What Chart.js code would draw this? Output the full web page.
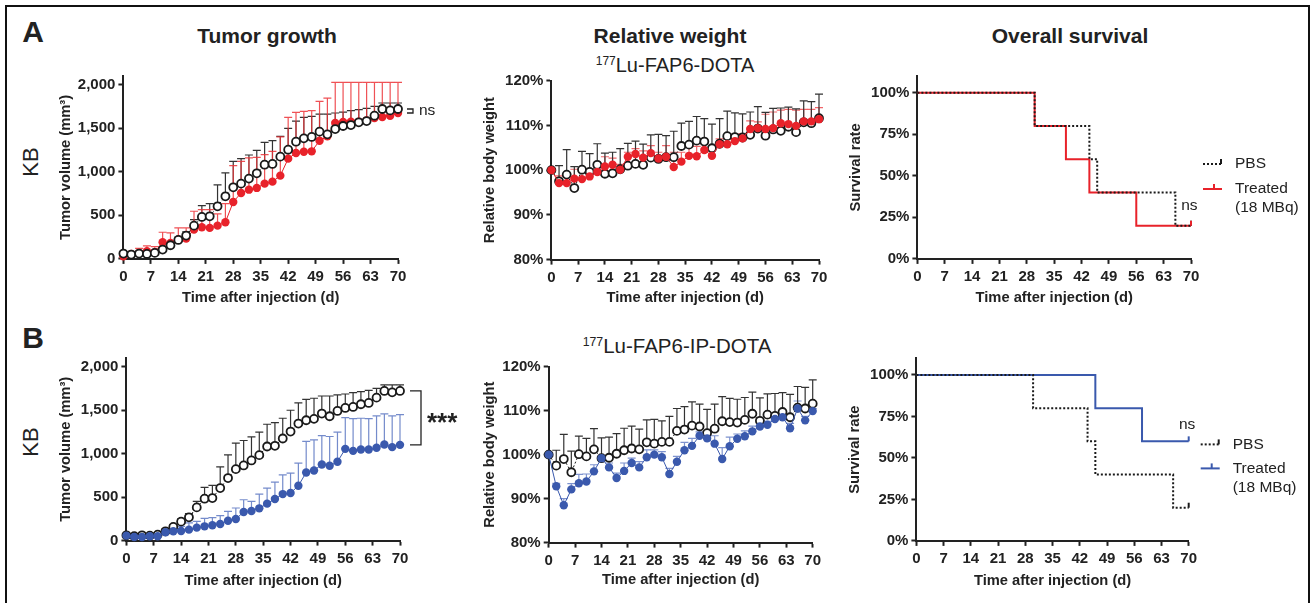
<!DOCTYPE html>
<html>
<head>
<meta charset="utf-8">
<script src="https://cdn.jsdelivr.net/npm/chart.js"></script>
<style>
  body { margin:0; background:#fff; width:1314px; height:603px; overflow:hidden; position:relative;
         font-family:"Liberation Sans", Arial, sans-serif; color:#222; }
  .frame { position:absolute; left:5px; top:5px; width:1301px; height:640px; border:2px solid #111; border-bottom:none; }
  .lbl { position:absolute; transform:translate(-50%,-50%); white-space:nowrap; line-height:1; }
  .rot { transform:translate(-50%,-50%) rotate(-90deg); }
  .box { position:absolute; }
  sup { font-size:0.6em; vertical-align:0.55em; line-height:0; }
</style>
</head>
<body>
<div class="frame"></div>

<div class="lbl" style="left:33px;top:32px;font-weight:bold;font-size:30px">A</div>
<div class="lbl" style="left:33px;top:338px;font-weight:bold;font-size:30px">B</div>
<div class="lbl" style="left:267px;top:35px;font-weight:bold;font-size:21px">Tumor growth</div>
<div class="lbl" style="left:670px;top:35px;font-weight:bold;font-size:21px">Relative weight</div>
<div class="lbl" style="left:1070px;top:35px;font-weight:bold;font-size:21px">Overall survival</div>
<div class="lbl" style="left:675px;top:65px;font-size:20px"><sup>177</sup>Lu-FAP6-DOTA</div>
<div class="lbl" style="left:677px;top:346px;font-size:20.5px"><sup>177</sup>Lu-FAP6-IP-DOTA</div>
<div class="lbl rot" style="left:31px;top:162px;font-size:22px">KB</div>
<div class="lbl rot" style="left:31px;top:442px;font-size:22px">KB</div>

<script>
// sampling days and axis ticks
var days = [0,2,4,6,8,10,12,14,16,18,20,22,24,26,28,30,32,34,36,38,40,42,44,46,48,50,52,54,56,58,60,62,64,66,68,70];
var dayTicks = [0,7,14,21,28,35,42,49,56,63,70];
var volumeTicks = [0,500,1000,1500,2000];
var weightTicks = [80,90,100,110,120];
var survivalTicks = [0,25,50,75,100];

// tumor volume (mm3), mean and mean+SD
var tumorPBS =     [61,50,61,57,69,107,157,218,268,382,482,489,604,719,822,864,922,983,1082,1090,1174,1254,1346,1384,1400,1461,1430,1491,1526,1537,1568,1583,1644,1721,1705,1721];
var tumorPBSUp =   [75,65,80,75,90,135,185,250,310,450,612,635,849,987,1120,1151,1193,1247,1338,1357,1407,1499,1583,1625,1637,1663,1663,1675,1686,1702,1713,1728,1751,1790,1790,1790];
var tumorFAP6 =    [31,57,69,88,76,191,183,222,233,336,363,356,382,421,654,757,795,815,864,887,956,1151,1216,1231,1235,1357,1407,1560,1572,1576,1576,1591,1618,1629,1644,1675];
var tumorFAP6Up =  [60,75,120,150,140,306,298,356,356,547,566,566,516,635,1071,1120,1159,1166,1197,1235,1400,1625,1683,1694,1702,1809,1847,2027,2027,2027,2027,2027,2027,2027,2027,2027];
var tumorIP =      [57,42,42,50,50,96,107,111,126,149,164,176,191,229,249,329,340,371,425,478,535,547,631,784,807,876,860,906,1055,1032,1047,1047,1067,1105,1075,1101];
var tumorIPUp =    [70,55,55,62,65,126,145,164,203,222,256,264,287,337,375,470,451,535,604,673,757,776,891,1140,1159,1208,1197,1247,1415,1403,1407,1403,1434,1457,1434,1449];

// relative body weight (%), mean and mean+SD
var weightPBS =    [100,97.5,99.0,96.0,100.1,99.6,101.2,99.2,99.3,100.2,101.0,101.4,101.2,102.8,102.5,102.9,102.9,105.4,105.7,106.6,106.4,104.9,105.9,107.6,107.4,107.3,107.9,109.3,107.7,109.1,108.8,109.7,108.5,110.7,110.5,111.6];
var weightPBSUp =  [100,101.0,104.6,100.8,104.2,103.7,105.9,103.8,104.0,104.8,106.0,106.5,105.8,107.9,108.0,107.7,108.7,110.5,110.9,112.0,111.5,110.3,111.5,113.2,112.8,112.6,113.0,114.2,112.9,113.8,113.9,114.1,113.7,115.5,115.3,117.0];
var weightFAP6 =   [100,97.1,97.1,98.1,98.0,98.6,99.6,100.8,101.2,100.1,103.0,103.6,102.8,103.8,102.6,103.0,100.7,101.9,103.2,103.1,104.5,103.2,105.8,105.8,106.5,107.1,109.2,109.4,109.2,109.4,110.5,110.3,109.9,110.9,110.9,111.4];
var weightFAP6Up = [100,98.7,98.5,100.2,100.3,100.3,100.8,103.0,102.7,101.3,104.0,104.8,104.3,105.5,104.0,105.5,104.0,104.0,105.3,105.3,106.0,105.0,107.0,107.2,108.0,108.2,111.0,110.8,112.5,113.0,113.4,113.6,113.4,113.6,113.6,114.0];
var weightIP =     [100,92.8,88.5,92.1,93.5,93.9,96.2,99.2,97.1,94.7,96.3,98.1,97.1,99.4,100.0,99.4,95.6,98.4,101.0,102.0,104.3,103.7,102.5,99.0,101.9,103.6,104.2,105.3,106.4,106.8,108.1,108.5,106.0,110.5,107.8,109.9];
var weightIPUp =   [100,93.5,90.0,93.4,95.5,95.6,97.7,99.5,98.1,95.8,98.1,99.2,98.4,101.1,101.1,100.7,96.9,99.6,102.8,103.7,105.2,104.9,104.3,101.6,104.0,104.7,105.4,106.5,107.1,107.6,108.7,109.0,107.1,112.2,108.7,110.5];

// Kaplan-Meier steps
var survPBSDays = [0,30,44,46,66,70];
var survPBS =     [100,80,60,40,20,20];
var survFAP6Days = [0,30,38,44,56,70];
var survFAP6 =     [100,80,60,40,20,20];
var survIPDays = [0,46,58,70];
var survIP =     [100,80,60,60];

var BLACK = '#1a1a1a', RED = '#e8222a', BLUE = '#3a59ad';
var FONT = '"Liberation Sans", Arial, sans-serif';
Chart.defaults.font.family = FONT;
Chart.defaults.color = '#222';

function pts(xs, ys) { return xs.map(function(x, i){ return {x: x, y: ys[i]}; }); }

var errorBars = {
  id: 'errorBars',
  beforeDatasetsDraw: function(chart) {
    var ctx = chart.ctx, x = chart.scales.x, y = chart.scales.y;
    chart.data.datasets.forEach(function(ds) {
      if (!ds.errUp) return;
      ctx.save();
      ctx.strokeStyle = ds.errColor;
      ctx.lineWidth = 1.2;
      ds.data.forEach(function(p, j) {
        var px = x.getPixelForValue(p.x), py = y.getPixelForValue(p.y), pu = y.getPixelForValue(ds.errUp[j]);
        if (py - pu < 1) return;
        ctx.beginPath();
        ctx.moveTo(px, py); ctx.lineTo(px, pu);
        ctx.moveTo(px - 4, pu); ctx.lineTo(px + 4, pu);
        ctx.stroke();
      });
      ctx.restore();
    });
  }
};

var bracket = {
  id: 'bracket',
  afterDatasetsDraw: function(chart, args, o) {
    if (o.hi === undefined) return;
    var ctx = chart.ctx, x = chart.scales.x, y = chart.scales.y;
    var yh = y.getPixelForValue(o.hi), yl = y.getPixelForValue(o.lo), xr = x.right + o.dx;
    ctx.save();
    ctx.strokeStyle = '#222'; ctx.lineWidth = 1.3;
    ctx.beginPath();
    ctx.moveTo(xr - o.w, yh); ctx.lineTo(xr, yh); ctx.lineTo(xr, yl); ctx.lineTo(xr - o.w, yl);
    ctx.stroke();
    ctx.fillStyle = '#222'; ctx.font = o.font; ctx.textBaseline = 'middle';
    ctx.fillText(o.text, xr + o.gap, (yh + yl) / 2 + o.ty);
    ctx.restore();
  }
};

var kmExtras = {
  id: 'kmExtras',
  afterDatasetsDraw: function(chart, args, o) {
    var ctx = chart.ctx, x = chart.scales.x, y = chart.scales.y, a = chart.chartArea;
    ctx.save();
    // censor tick at the end of each curve
    chart.data.datasets.forEach(function(ds) {
      var last = ds.data[ds.data.length - 1];
      var px = x.getPixelForValue(last.x), py = y.getPixelForValue(last.y);
      ctx.strokeStyle = ds.borderColor; ctx.lineWidth = 2; ctx.setLineDash([]);
      ctx.beginPath(); ctx.moveTo(px, py); ctx.lineTo(px, py - 5); ctx.stroke();
    });
    // legend
    ctx.font = '15.5px ' + FONT; ctx.textBaseline = 'middle'; ctx.fillStyle = '#222';
    chart.data.datasets.forEach(function(ds, i) {
      var ly = a.top + o.rows[i], lx = a.right + 12;
      ctx.strokeStyle = ds.borderColor; ctx.lineWidth = 2;
      ctx.setLineDash(ds.borderDash || []);
      ctx.beginPath(); ctx.moveTo(lx, ly); ctx.lineTo(lx + 19, ly); ctx.stroke();
      ctx.setLineDash([]);
      var tx = i === 0 ? lx + 18 : lx + 11;
      ctx.beginPath(); ctx.moveTo(tx, ly); ctx.lineTo(tx, ly - 5); ctx.stroke();
      o.lines[i].forEach(function(t, k) { ctx.fillText(t, a.right + 44, ly + k * 19); });
    });
    ctx.textAlign = 'center';
    ctx.fillText('ns', x.getPixelForValue(o.ns[0]), y.getPixelForValue(o.ns[1]));
    ctx.restore();
  }
};

function axisStyle() {
  return {
    border: {display: true, width: 2, color: '#222'},
    grid: {display: true, drawOnChartArea: false, drawTicks: true, tickLength: 5, tickWidth: 2, tickColor: '#222'}
  };
}

function panel(box, area, datasets, yAxis, plugins, pluginOpts) {
  var div = document.createElement('div');
  div.className = 'box';
  div.style.left = box.l + 'px'; div.style.top = box.t + 'px';
  var w = box.r - box.l, h = box.b - box.t;
  div.style.width = w + 'px'; div.style.height = h + 'px';
  var c = document.createElement('canvas');
  c.width = w; c.height = h;
  div.appendChild(c);
  document.body.appendChild(div);

  var xs = axisStyle(), ys = axisStyle();
  var opts = Object.assign({legend: {display: false}, tooltip: {enabled: false}}, pluginOpts || {});
  new Chart(c, {
    type: 'line',
    data: {datasets: datasets},
    options: {
      responsive: false,
      animation: false,
      layout: {padding: {left: 0, top: area.t - box.t, right: box.r - area.r, bottom: 0}},
      plugins: opts,
      scales: {
        x: {
          type: 'linear', min: 0, max: 70,
          border: xs.border, grid: xs.grid,
          afterBuildTicks: function(s) { s.ticks = dayTicks.map(function(v){ return {value: v}; }); },
          afterFit: function(s) { s.height = box.b - area.b; },
          ticks: {font: {size: 15, weight: 'bold'}, padding: 4, maxRotation: 0, autoSkip: false, color: '#222'},
          title: {display: true, text: 'Time after injection (d)', font: {size: 14.7, weight: 'bold', lineHeight: 1.2}, padding: 0, color: '#222'}
        },
        y: {
          type: 'linear', min: yAxis.min, max: yAxis.max,
          border: ys.border, grid: ys.grid,
          afterBuildTicks: function(s) { s.ticks = yAxis.ticks.map(function(v){ return {value: v}; }); },
          afterFit: function(s) { s.width = area.l - box.l; },
          ticks: {font: {size: 15, weight: 'bold'}, padding: 3, autoSkip: false, color: '#222', callback: yAxis.fmt},
          title: {display: true, text: yAxis.title, font: {size: 14.7, weight: 'bold', lineHeight: 1.2}, padding: 0, color: '#222'}
        }
      }
    },
    plugins: plugins
  });
}

function pbsSeries(vals, up) {
  return {data: pts(days, vals), errUp: up, errColor: '#333', borderColor: BLACK, borderWidth: 1, borderDash: [2, 2],
          pointRadius: 4, pointBorderWidth: 1.8, pointBackgroundColor: '#fff', pointBorderColor: BLACK, clip: false};
}
function treatedSeries(vals, up, col, errCol) {
  return {data: pts(days, vals), errUp: up, errColor: errCol, borderColor: col, borderWidth: 1,
          pointRadius: 4.2, pointBorderWidth: 0, pointBackgroundColor: col, clip: false};
}
function kmSeries(xs, ys, col, dashed) {
  return {data: pts(xs, ys), stepped: true, borderColor: col, borderWidth: 2, borderDash: dashed ? [2, 2] : [],
          pointRadius: 0, clip: false};
}

var volAxis = {min: 0, max: 2100, ticks: volumeTicks, title: 'Tumor volume (mm³)',
               fmt: function(v){ return v.toLocaleString('en-US'); }};
var wAxis = {min: 80, max: 120, ticks: weightTicks, title: 'Relative body weight', fmt: function(v){ return v + '%'; }};
var sAxis = {min: 0, max: 110, ticks: survivalTicks, title: 'Survival rate', fmt: function(v){ return v + '%'; }};

// row A
panel({l: 56.6, t: 60, r: 450, b: 307.4}, {l: 123, t: 76, r: 398, b: 259.3},
  [pbsSeries(tumorPBS, tumorPBSUp), treatedSeries(tumorFAP6, tumorFAP6Up, RED, 'rgba(236,50,55,0.85)')],
  volAxis, [errorBars, bracket],
  {bracket: {hi: tumorPBS[tumorPBS.length - 1], lo: tumorFAP6[tumorFAP6.length - 1], dx: 15, w: 6, gap: 6, text: 'ns', font: '15.5px ' + FONT, ty: 0}});

panel({l: 480.6, t: 64, r: 835, b: 307.4}, {l: 551, t: 80.7, r: 819, b: 260},
  [treatedSeries(weightFAP6, weightFAP6Up, RED, 'rgba(236,50,55,0.75)'), pbsSeries(weightPBS, weightPBSUp)],
  wAxis, [errorBars]);

panel({l: 846.6, t: 60, r: 1300, b: 307.4}, {l: 917, t: 76, r: 1191, b: 259.3},
  [kmSeries(survPBSDays, survPBS, BLACK, true), kmSeries(survFAP6Days, survFAP6, RED, false)],
  sAxis, [kmExtras],
  {kmExtras: {rows: [88, 113], lines: [['PBS'], ['Treated', '(18 MBq)']], ns: [69.6, 32]}});

// row B
panel({l: 56.6, t: 340, r: 470, b: 590.4}, {l: 126, t: 358, r: 400, b: 541},
  [treatedSeries(tumorIP, tumorIPUp, BLUE, 'rgba(70,100,185,0.75)'), pbsSeries(tumorPBS, tumorPBSUp)],
  volAxis, [errorBars, bracket],
  {bracket: {hi: tumorPBS[tumorPBS.length - 1], lo: tumorIP[tumorIP.length - 1], dx: 21, w: 11, gap: 6, text: '***', font: 'bold 26px ' + FONT, ty: 6}});

panel({l: 480.6, t: 350, r: 835, b: 589.4}, {l: 548.3, t: 366.7, r: 812.7, b: 543},
  [treatedSeries(weightIP, weightIPUp, BLUE, 'rgba(70,100,185,0.7)'), pbsSeries(weightPBS, weightPBSUp)],
  wAxis, [errorBars]);

panel({l: 845.6, t: 340, r: 1300, b: 590.4}, {l: 916, t: 358.4, r: 1188.7, b: 541.3},
  [kmSeries(survPBSDays, survPBS, BLACK, true), kmSeries(survIPDays, survIP, BLUE, false)],
  sAxis, [kmExtras],
  {kmExtras: {rows: [86, 110], lines: [['PBS'], ['Treated', '(18 MBq)']], ns: [69.6, 70]}});
</script>
</body>
</html>
